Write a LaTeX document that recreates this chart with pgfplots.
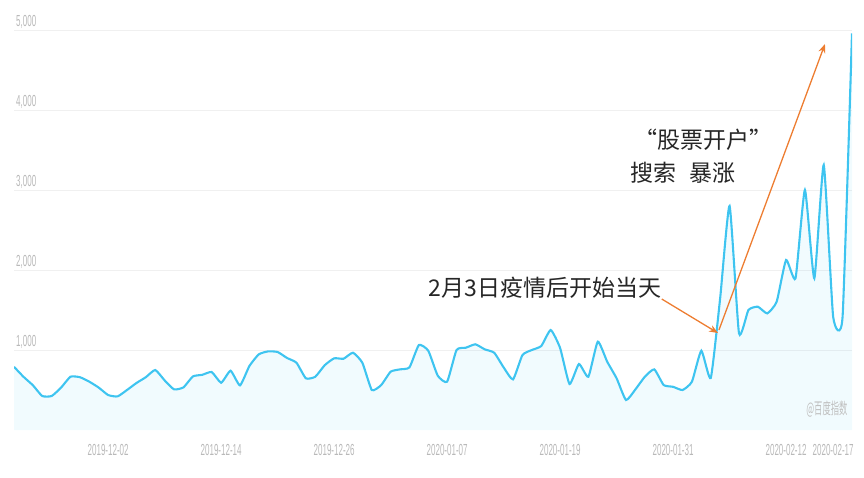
\documentclass[border=0pt]{standalone}
\usepackage{pgfplots}
\pgfplotsset{compat=1.18}
\usepackage{pgfplotstable}
\usetikzlibrary{arrows.meta}
\usepackage{fontspec}
\setmainfont{Liberation Sans}
\newfontfamily\cjk{Noto Sans CJK SC}
\definecolor{lineblue}{RGB}{62,196,240}
\definecolor{annoorange}{RGB}{237,125,49}
\definecolor{ticklab}{RGB}{185,185,185}
\pgfplotstableread{
d v
0 790
1 666
2 560
3 425
4 425
5 530
6 666
7 660
8 604
9 530
10 437
11 420
12 500
13 587
14 660
15 750
16 620
17 508
18 533
19 670
20 690
21 725
22 591
23 741
24 558
25 800
26 946
27 983
28 975
29 900
30 841
31 646
32 666
33 810
34 896
35 891
36 966
37 840
38 500
39 562
40 729
41 758
42 783
43 1062
44 991
45 680
46 604
47 1000
48 1029
49 1071
50 1008
51 966
52 783
53 633
54 937
55 1000
56 1050
57 1250
58 1025
59 575
60 825
61 666
62 1104
63 854
64 646
65 375
66 508
67 666
68 758
69 562
70 540
71 500
72 604
73 991
74 650
75 1650
76 2800
77 1208
78 1500
79 1541
80 1458
81 1604
82 2125
83 1896
84 3000
85 1896
86 3312
87 1416
88 1416
89 4958
}\idx
\begin{document}
\begin{tikzpicture}[x=1pt,y=1pt]
\path[use as bounding box] (-14,-47) rectangle (850,430);
\begin{axis}[
  at={(0,0)}, anchor=south west,
  scale only axis, width=838pt, height=400pt,
  xmin=0, xmax=89, ymin=0, ymax=5000,
  axis line style={draw=none},
  major tick length=0pt,
  xtick={10,22,34,46,58,70,82,87},
  xticklabels={
    \scalebox{0.5}[1]{2019-12-02},
    \scalebox{0.5}[1]{2019-12-14},
    \scalebox{0.5}[1]{2019-12-26},
    \scalebox{0.5}[1]{2020-01-07},
    \scalebox{0.5}[1]{2020-01-19},
    \scalebox{0.5}[1]{2020-01-31},
    \scalebox{0.5}[1]{2020-02-12},
    \scalebox{0.5}[1]{2020-02-17}},
  ytick={1000,2000,3000,4000,5000},
  yticklabels={
    \scalebox{0.5}[1]{1,000},
    \scalebox{0.5}[1]{2,000},
    \scalebox{0.5}[1]{3,000},
    \scalebox{0.5}[1]{4,000},
    \scalebox{0.5}[1]{5,000}},
  ymajorgrids,
  major grid style={color=black!6, line width=0.6pt},
  xticklabel style={font=\fontsize{16}{16}\selectfont, text=ticklab, anchor=north, inner sep=0pt, yshift=-14pt},
  yticklabel style={font=\fontsize{16}{16}\selectfont, text=ticklab, anchor=south west, inner sep=0pt, xshift=2pt, yshift=1pt},
]
\addplot[draw=none, fill=lineblue, fill opacity=0.07, smooth, tension=0.3] table[x=d,y=v]{\idx} \closedcycle;
\addplot[color=lineblue, line width=2.1pt, smooth, tension=0.3] table[x=d,y=v]{\idx};
\draw[annoorange, line width=1.3pt, -{Stealth[length=9pt,width=7pt]}] (axis cs:68.8,1637) -- (axis cs:74.77,1212);
\draw[annoorange, line width=1.3pt, -{Stealth[length=9pt,width=7pt]}] (axis cs:74.87,1250) -- (axis cs:86.13,4825);
\node[font=\cjk\fontsize{23}{23}\selectfont, text=black!85] at (axis cs:56.4,1775) {2月3日疫情后开始当天};
\node[font=\cjk\fontsize{23}{23}\selectfont, text=black!85] at (axis cs:73.2,3625) {“股票开户”};
\node[font=\cjk\fontsize{23}{23}\selectfont, text=black!85] at (axis cs:71.05,3212) {搜索\hspace{0.6em}暴涨};
\node[text=black!25] at (axis cs:86.34,262) {\scalebox{0.52}[1]{\cjk\fontsize{16}{16}\selectfont @百度指数}};
\end{axis}
\end{tikzpicture}
\end{document}
